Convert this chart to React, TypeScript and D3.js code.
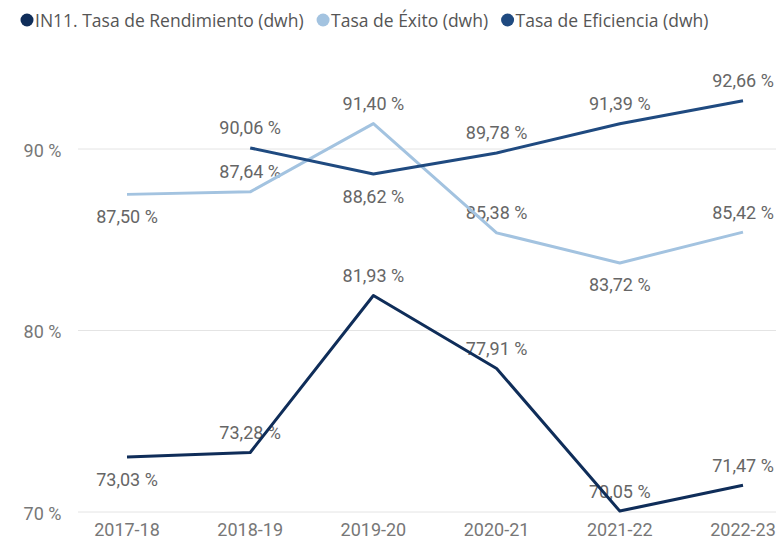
import { useEffect, useRef } from "react";
import * as d3 from "d3";

const years = ["2017-18", "2018-19", "2019-20", "2020-21", "2021-22", "2022-23"];
const rendimiento = [73.03, 73.28, 81.93, 77.91, 70.05, 71.47];
const exito = [87.5, 87.64, 91.4, 85.38, 83.72, 85.42];
const eficiencia = [null, 90.06, 88.62, 89.78, 91.39, 92.66];
const yTicks = [70, 80, 90];

// where the data label sits for each point
const rendimientoSide = ["below", "above", "above", "above", "above", "above"];
const exitoSide = ["below", "above", "above", "above", "below", "above"];
const eficienciaSide = ["above", "above", "below", "above", "above", "above"];

const series = [
  { name: "IN11. Tasa de Rendimiento (dwh)", values: rendimiento, side: rendimientoSide, color: "#0f2d59" },
  { name: "Tasa de Éxito (dwh)", values: exito, side: exitoSide, color: "#a3c3e0" },
  { name: "Tasa de Eficiencia (dwh)", values: eficiencia, side: eficienciaSide, color: "#1f4a80" },
];

const W = 776;
const H = 539;

export default function App() {
  const ref = useRef<SVGSVGElement>(null);

  useEffect(() => {
    const svg = d3.select(ref.current);
    svg.selectAll("*").remove();

    const x = d3.scalePoint<string>().domain(years).range([127, 743]);
    const y = d3.scaleLinear().domain([70, 90]).range([512, 149]);
    const fmt = (v: number) => d3.format(".2f")(v).replace(".", ",") + " %";

    // gridlines + y labels
    const grid = svg.append("g");
    grid.selectAll("line")
      .data(yTicks)
      .join("line")
      .attr("x1", 78)
      .attr("x2", W)
      .attr("y1", d => y(d))
      .attr("y2", d => y(d))
      .attr("stroke", "#e4e4e4")
      .attr("stroke-width", 1);
    grid.selectAll("text")
      .data(yTicks)
      .join("text")
      .attr("x", 61.5)
      .attr("y", d => y(d) + 7.5)
      .attr("text-anchor", "end")
      .attr("font-family", "Roboto")
      .attr("font-size", 18)
      .attr("fill", "#777")
      .text(d => `${d} %`);

    // x labels
    svg.append("g")
      .selectAll("text")
      .data(years)
      .join("text")
      .attr("x", d => x(d)!)
      .attr("y", 536)
      .attr("text-anchor", "middle")
      .attr("font-family", "Roboto")
      .attr("font-size", 18)
      .attr("fill", "#777")
      .text(d => d);

    // data labels (under the lines)
    series.forEach(s => {
      const pts = years
        .map((yr, i) => ({ yr, v: s.values[i], side: s.side[i] }))
        .filter(p => p.v != null);
      svg.append("g")
        .selectAll("text")
        .data(pts)
        .join("text")
        .attr("x", p => x(p.yr)!)
        .attr("y", p => y(p.v as number) + (p.side === "above" ? -13.5 : 28.5))
        .attr("text-anchor", "middle")
        .attr("font-family", "Roboto")
        .attr("font-size", 18)
        .attr("fill", "#666")
        .text(p => fmt(p.v as number));
    });

    // lines, light one first
    const line = d3.line<{ yr: string; v: number | null }>()
      .defined(p => p.v != null)
      .x(p => x(p.yr)!)
      .y(p => y(p.v as number));
    [series[1], series[2], series[0]].forEach(s => {
      svg.append("path")
        .datum(years.map((yr, i) => ({ yr, v: s.values[i] })))
        .attr("fill", "none")
        .attr("stroke", s.color)
        .attr("stroke-width", 3)
        .attr("stroke-linejoin", "round")
        .attr("d", line);
    });

    // legend
    const legend = svg.append("g");
    let lx = 20.5;
    series.forEach(s => {
      legend.append("circle")
        .attr("cx", lx + 6.5)
        .attr("cy", 20)
        .attr("r", 6.5)
        .attr("fill", s.color);
      const t = legend.append("text")
        .attr("x", lx + 14.5)
        .attr("y", 27)
        .attr("font-family", "Open Sans")
        .attr("font-size", 17.5)
        .attr("fill", "#555")
        .text(s.name);
      const w = (t.node() as SVGTextElement).getComputedTextLength();
      lx += 14.5 + w + 13;
    });
  }, []);

  return (
    <svg ref={ref} width={W} height={H} style={{ position: "absolute", left: 0, top: 0, background: "#fff" }} />
  );
}
